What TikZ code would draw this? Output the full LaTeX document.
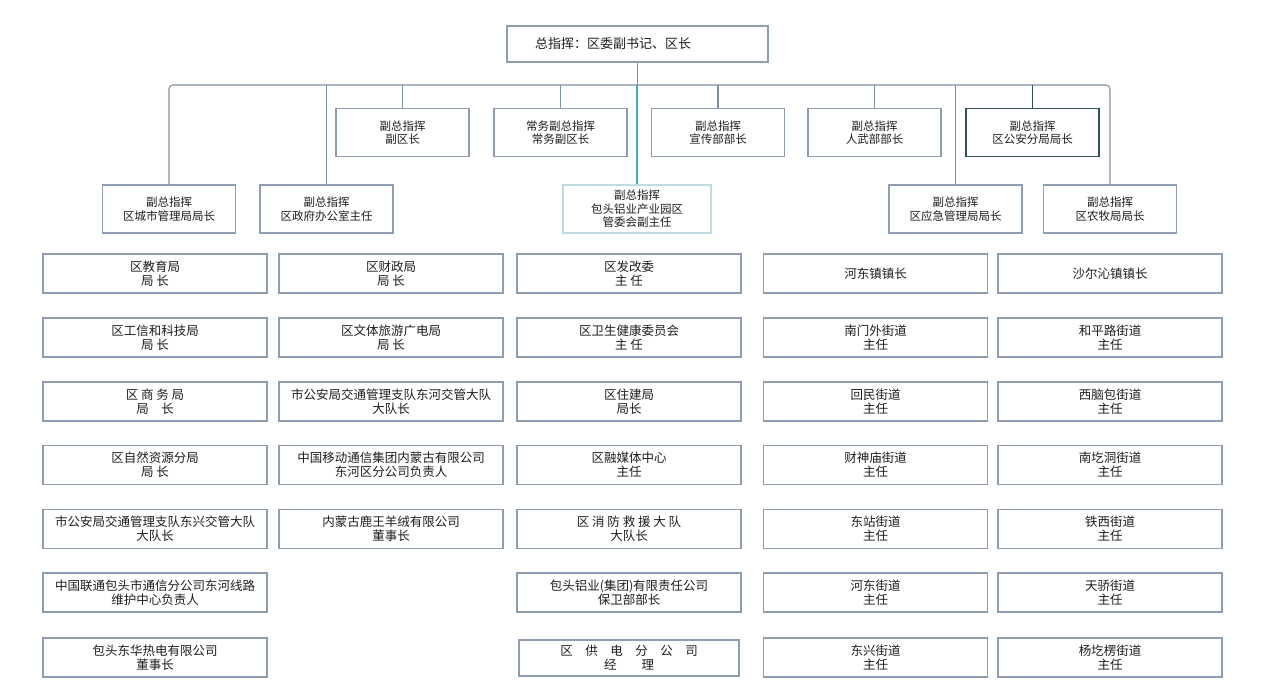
\documentclass[tikz,border=0pt]{standalone}
\usepackage{fontspec}
\setmainfont{Noto Sans CJK SC}
\usepackage{tikz}
\usetikzlibrary{positioning}

\definecolor{boxline}{HTML}{8E9DB1}
\definecolor{linkcol}{HTML}{7E90A6}
\definecolor{cyanline}{HTML}{45A8CC}
\definecolor{lightbox}{HTML}{BDDDE2}
\definecolor{darkbox}{HTML}{2F5259}
\definecolor{txt}{HTML}{1E1E1E}

\tikzset{
  box/.style={draw=boxline, line width=1.1pt, fill=white, text=txt, align=center,
    minimum width=224pt, minimum height=39pt, inner sep=0pt,
    font=\fontsize{12.5}{14}\selectfont},
  lead/.style={box, minimum width=133pt, minimum height=48pt,
    font=\fontsize{11.5}{13.5}\selectfont},
  link/.style={draw=linkcol, line width=1.1pt, rounded corners=4pt},
}

\begin{document}
\begin{tikzpicture}[x=1pt, y=-1pt]
  \useasboundingbox[fill=white] (0,0) rectangle (1279,687);

  % command
  \node[box, minimum width=261pt, minimum height=36pt, text width=205pt, align=left,
    font=\fontsize{13}{15}\selectfont] at (637.5,44) (top) {总指挥：区委副书记、区长};
  \coordinate (bus) at (637.5,85);

  % deputies, upper row
  \node[lead] at (402.5,132.5) (fq) {副总指挥\\副区长};
  \node[lead] at (560.5,132.5) (cw) {常务副总指挥\\常务副区长};
  \node[lead] at (718,132.5)   (xc) {副总指挥\\宣传部部长};
  \node[lead] at (874.5,132.5) (rw) {副总指挥\\人武部部长};
  \node[lead, draw=darkbox, line width=1.6pt] at (1032.5,132.5) (ga) {副总指挥\\区公安分局局长};

  % deputies, lower row
  \node[lead] at (169,209)    (cg) {副总指挥\\区城市管理局局长};
  \node[lead] at (326.5,209)  (zb) {副总指挥\\区政府办公室主任};
  \node[lead, draw=lightbox, minimum width=148pt] at (637,209) (ly) {副总指挥\\包头铝业产业园区\\管委会副主任};
  \node[lead] at (955.5,209)  (yj) {副总指挥\\区应急管理局局长};
  \node[lead] at (1110,209)   (nm) {副总指挥\\区农牧局局长};

  \draw[link] (top.south) -- (bus);
  \draw[link] (cg.north) |- (bus) -| (nm.north);
  \draw[link] (bus -| zb) -- (zb.north);
  \draw[link] (bus -| fq) -- (fq.north);
  \draw[link] (bus -| cw) -- (cw.north);
  \draw[link] (bus -| xc) -- (xc.north);
  \draw[link] (bus -| rw) -- (rw.north);
  \draw[link] (bus -| yj) -- (yj.north);
  \draw[link, draw=darkbox] (bus -| ga) -- (ga.north);
  \draw[cyanline, line width=1.4pt] (bus -| ly) -- (ly.north);

  % units, column 1
  \node[box] at (155,273.5) (jy) {区教育局\\局 长};
  \node[box] at (155,337.5) (gx) {区工信和科技局\\局 长};
  \node[box] at (155,401.5) (sw) {区 商 务 局\\局　长};
  \node[box] at (155,465)   (zr) {区自然资源分局\\局 长};
  \node[box] at (155,529)   (dxj) {市公安局交通管理支队东兴交管大队\\大队长};
  \node[box] at (155,592.5) (lt) {中国联通包头市通信分公司东河线路\\维护中心负责人};
  \node[box] at (155,657.5) (dh) {包头东华热电有限公司\\董事长};

  % units, column 2
  \node[box] at (391,273.5) (cz) {区财政局\\局 长};
  \node[box] at (391,337.5) (wt) {区文体旅游广电局\\局 长};
  \node[box] at (391,401.5) (dhj) {市公安局交通管理支队东河交管大队\\大队长};
  \node[box] at (391,465)   (yd) {中国移动通信集团内蒙古有限公司\\东河区分公司负责人};
  \node[box] at (391,529)   (lw) {内蒙古鹿王羊绒有限公司\\董事长};

  % units, column 3
  \node[box] at (629,273.5) (fg) {区发改委\\主 任};
  \node[box] at (629,337.5) (wj) {区卫生健康委员会\\主 任};
  \node[box] at (629,401.5) (zj) {区住建局\\局长};
  \node[box] at (629,465)   (rm) {区融媒体中心\\主任};
  \node[box] at (629,529)   (xf) {区 消 防 救 援 大 队\\大队长};
  \node[box] at (629,592.5) (lyj) {包头铝业(集团)有限责任公司\\保卫部部长};
  \node[box, minimum width=220pt, minimum height=36pt] at (629,658) (gd) {区　供　电　分　公　司\\经　　理};

  % towns and streets
  \node[box] at (875.5,273.5) (hdz) {河东镇镇长};
  \node[box] at (875.5,337.5) (nmw) {南门外街道\\主任};
  \node[box] at (875.5,401.5) (hm) {回民街道\\主任};
  \node[box] at (875.5,465)   (csm) {财神庙街道\\主任};
  \node[box] at (875.5,529)   (dz) {东站街道\\主任};
  \node[box] at (875.5,592.5) (hdj) {河东街道\\主任};
  \node[box] at (875.5,657.5) (dx) {东兴街道\\主任};

  \node[box] at (1110,273.5) (sqz) {沙尔沁镇镇长};
  \node[box] at (1110,337.5) (hpl) {和平路街道\\主任};
  \node[box] at (1110,401.5) (xnb) {西脑包街道\\主任};
  \node[box] at (1110,465)   (ngd) {南圪洞街道\\主任};
  \node[box] at (1110,529)   (tx) {铁西街道\\主任};
  \node[box] at (1110,592.5) (tj) {天骄街道\\主任};
  \node[box] at (1110,657.5) (ygl) {杨圪楞街道\\主任};
\end{tikzpicture}
\end{document}
